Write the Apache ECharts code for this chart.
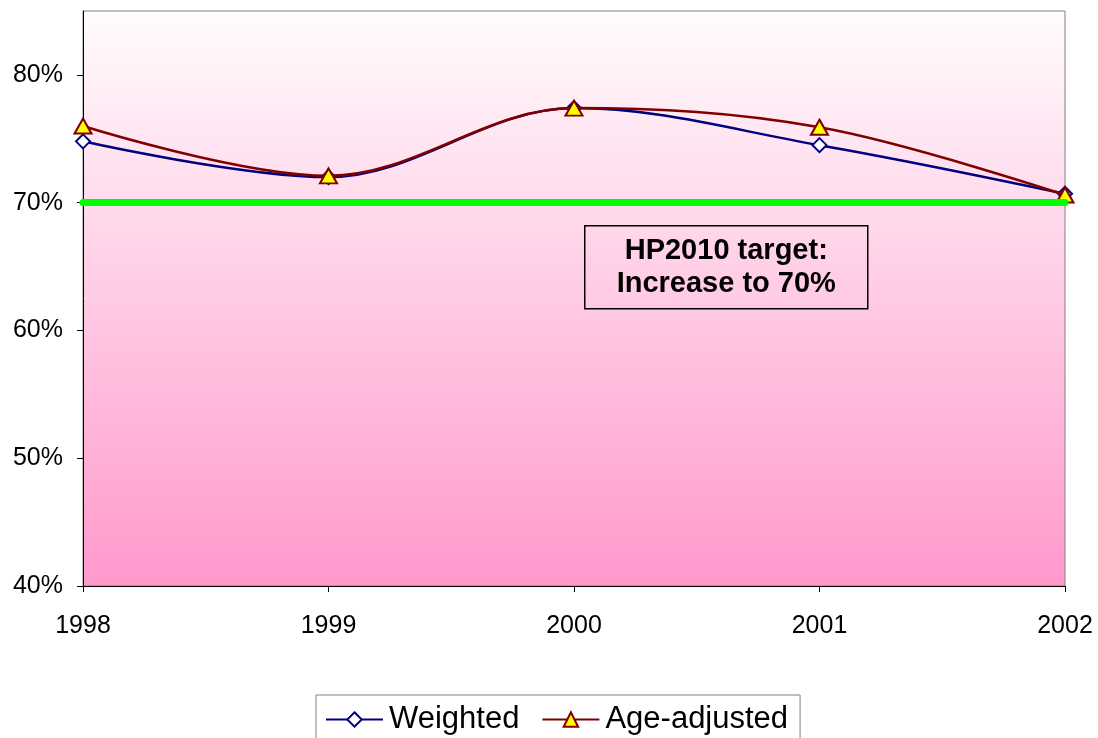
<!DOCTYPE html>
<html>
<head>
<meta charset="utf-8">
<script src="https://cdn.jsdelivr.net/npm/echarts@6/dist/echarts.min.js"></script>
<style>
  html, body { margin: 0; padding: 0; background: #ffffff; }
  #chart { width: 1098px; height: 738px; }
</style>
</head>
<body>
<div id="chart"></div>
<script>
// Survey years and rates (%)
const years = ['1998', '1999', '2000', '2001', '2002'];
const weighted = [74.8, 72.0, 77.4, 74.5, 70.7];
const ageAdjusted = [76.0, 72.1, 77.4, 75.9, 70.6];
const yTicks = [40, 50, 60, 70, 80];
const targetValue = 70;
const targetText = ['HP2010 target:', 'Increase to 70%'];
const seriesNames = ['Weighted', 'Age-adjusted'];

const FONT = 'Arial, "Liberation Sans", sans-serif';

const chart = echarts.init(document.getElementById('chart'));

chart.setOption({
  animation: false,
  backgroundColor: '#ffffff',
  grid: {
    left: 83, right: 33, top: 11, bottom: 152,
    show: true,
    borderColor: '#808080',
    borderWidth: 1,
    backgroundColor: new echarts.graphic.LinearGradient(0, 0, 0, 1, [
      { offset: 0, color: '#fffcfd' },
      { offset: 1, color: '#ff99cc' }
    ])
  },
  xAxis: {
    type: 'category',
    data: years,
    boundaryGap: false,
    axisLine: { lineStyle: { color: '#000000', width: 1 } },
    axisTick: { show: true, length: 6, lineStyle: { color: '#000000' } },
    axisLabel: { color: '#000000', fontSize: 25, fontFamily: FONT, margin: 28 },
    splitLine: { show: false }
  },
  yAxis: {
    type: 'value',
    min: 40, max: 85, interval: 10,
    axisLine: { show: true, lineStyle: { color: '#000000', width: 1 } },
    axisTick: { show: true, length: 6, lineStyle: { color: '#000000' }, customValues: yTicks },
    axisLabel: {
      color: '#000000', fontSize: 25, fontFamily: FONT, margin: 20,
      customValues: yTicks,
      formatter: function (v) { return v + '%'; }
    },
    splitLine: { show: false }
  },
  legend: {
    top: 695,
    left: 316,
    padding: [9, 12, 10, 9],
    itemGap: 22,
    itemWidth: 57,
    itemHeight: 18,
    borderColor: '#808080',
    borderWidth: 1,
    textStyle: { color: '#000000', fontSize: 31, fontFamily: FONT, padding: [0, 0, 0, 1] },
    data: seriesNames
  },
  series: [
    {
      name: seriesNames[0],
      type: 'line',
      data: weighted,
      smooth: 0.35,
      symbol: 'diamond',
      symbolSize: 14,
      lineStyle: { color: '#000080', width: 2.5 },
      itemStyle: { color: '#ffffff', borderColor: '#000080', borderWidth: 2 },
      markLine: {
        silent: true,
        symbol: 'none',
        label: { show: false },
        lineStyle: { color: '#00ff00', width: 7, type: 'solid', cap: 'round' },
        data: [{ yAxis: targetValue }]
      },
      z: 3
    },
    {
      name: seriesNames[1],
      type: 'line',
      data: ageAdjusted,
      smooth: 0.35,
      symbol: 'triangle',
      symbolSize: [17, 15],
      lineStyle: { color: '#800000', width: 2.5 },
      itemStyle: { color: '#ffff00', borderColor: '#800000', borderWidth: 2 },
      z: 4
    }
  ],
  graphic: [
    {
      type: 'group',
      left: 584, top: 225,
      children: [
        {
          type: 'rect',
          shape: { x: 0, y: 0, width: 283, height: 83 },
          style: { fill: 'transparent', stroke: '#000000', lineWidth: 1.5 }
        },
        {
          type: 'text',
          x: 141.5, y: 41.5,
          style: {
            text: targetText.join('\n'),
            fill: '#000000',
            font: 'bold 29px ' + FONT,
            align: 'center',
            verticalAlign: 'middle',
            lineHeight: 33
          }
        }
      ]
    }
  ]
});
</script>
</body>
</html>
